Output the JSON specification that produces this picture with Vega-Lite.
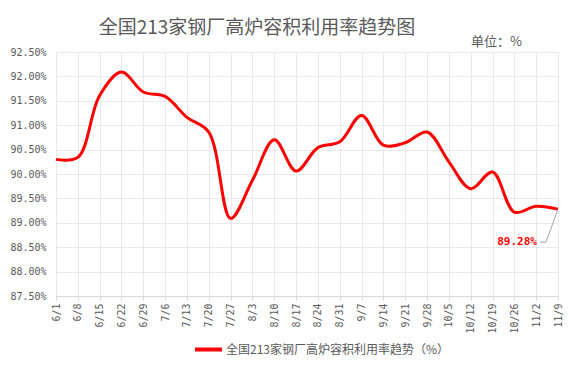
{
  "$schema": "https://vega.github.io/schema/vega-lite/v6.json",
  "autosize": "none",
  "width": 502,
  "height": 244,
  "padding": {"left": 56, "top": 52, "right": 18, "bottom": 74},
  "background": "#FFFFFF",
  "title": {
    "text": "全国213家钢厂高炉容积利用率趋势图",
    "font": "Noto Sans CJK SC",
    "fontSize": 19,
    "fontWeight": "normal",
    "color": "#595959",
    "anchor": "middle",
    "frame": "group",
    "dx": -50,
    "dy": 3,
    "offset": 0
  },
  "config": {
    "view": {"stroke": null},
    "axis": {"labelColor": "#595959", "gridColor": "#E9E9E9", "gridWidth": 1}
  },
  "data": {
    "values": [
      {"date": "6/1", "value": 0.9030},
      {"date": "6/8", "value": 0.9034},
      {"date": "6/15", "value": 0.9161},
      {"date": "6/22", "value": 0.9209},
      {"date": "6/29", "value": 0.9168},
      {"date": "7/6", "value": 0.9159},
      {"date": "7/13", "value": 0.9116},
      {"date": "7/20", "value": 0.9086},
      {"date": "7/27", "value": 0.8909},
      {"date": "8/3", "value": 0.8987},
      {"date": "8/10", "value": 0.9070},
      {"date": "8/17", "value": 0.9006},
      {"date": "8/24", "value": 0.9054},
      {"date": "8/31", "value": 0.9066},
      {"date": "9/7", "value": 0.9120},
      {"date": "9/14", "value": 0.9059},
      {"date": "9/21", "value": 0.9064},
      {"date": "9/28", "value": 0.9086},
      {"date": "10/5", "value": 0.9025},
      {"date": "10/12", "value": 0.8970},
      {"date": "10/19", "value": 0.9004},
      {"date": "10/26", "value": 0.8922},
      {"date": "11/2", "value": 0.8934},
      {"date": "11/9", "value": 0.8928}
    ]
  },
  "encoding": {
    "x": {
      "field": "date",
      "type": "ordinal",
      "sort": null,
      "scale": {"type": "point", "padding": 0},
      "axis": {
        "title": null,
        "labelAngle": -90,
        "labelAlign": "right",
        "labelBaseline": "middle",
        "labelFont": "DejaVu Sans Mono",
        "labelFontSize": 10,
        "labelPadding": 3,
        "tickSize": 4,
        "tickColor": "#D9D9D9",
        "domainColor": "#D9D9D9",
        "grid": true
      }
    },
    "y": {
      "field": "value",
      "type": "quantitative",
      "scale": {"domain": [0.875, 0.925], "nice": false, "zero": false},
      "axis": {
        "values": [0.875, 0.88, 0.885, 0.89, 0.895, 0.9, 0.905, 0.91, 0.915, 0.92, 0.925],
        "format": ".2%",
        "labelFont": "DejaVu Sans Mono",
        "labelFontSize": 10,
        "labelPadding": 10,
        "labelBaseline": "middle",
        "ticks": false,
        "domain": false,
        "title": "单位：%",
        "titleFont": "Noto Sans CJK SC",
        "titleFontSize": 13,
        "titleFontWeight": "normal",
        "titleColor": "#595959",
        "titleAngle": 0,
        "titleAlign": "center",
        "titleBaseline": "middle",
        "titleX": 440,
        "titleY": -11
      }
    }
  },
  "layer": [
    {
      "mark": {"type": "line", "interpolate": "catmull-rom", "strokeWidth": 3},
      "encoding": {
        "color": {
          "datum": "全国213家钢厂高炉容积利用率趋势（%）",
          "scale": {"range": ["#FF0000"]},
          "legend": {
            "title": null,
            "orient": "none",
            "legendX": 137,
            "legendY": 282,
            "symbolType": "stroke",
            "symbolSize": 729,
            "symbolStrokeWidth": 4,
            "labelFont": "Noto Sans CJK SC",
            "labelFontSize": 12,
            "labelColor": "#595959",
            "labelOffset": 2,
            "labelLimit": 0
          }
        }
      }
    },
    {
      "transform": [{"filter": {"field": "date", "equal": "11/9"}}],
      "mark": {"type": "rule", "color": "#A6A6A6", "strokeWidth": 1, "x2Offset": -12, "y2Offset": 33},
      "encoding": {"x2": {"field": "date"}, "y2": {"field": "value"}}
    },
    {
      "transform": [{"filter": {"field": "date", "equal": "11/9"}}],
      "mark": {"type": "rule", "color": "#A6A6A6", "strokeWidth": 1, "xOffset": -12, "x2Offset": -18, "yOffset": 33, "y2Offset": 33},
      "encoding": {"x2": {"field": "date"}, "y2": {"field": "value"}}
    },
    {
      "transform": [{"filter": {"field": "date", "equal": "11/9"}}],
      "mark": {"type": "text", "align": "right", "baseline": "middle", "dx": -21, "dy": 33, "color": "#FF0000", "fontWeight": "bold", "font": "DejaVu Sans Mono", "fontSize": 11},
      "encoding": {"text": {"field": "value", "format": ".2%"}}
    }
  ]
}
